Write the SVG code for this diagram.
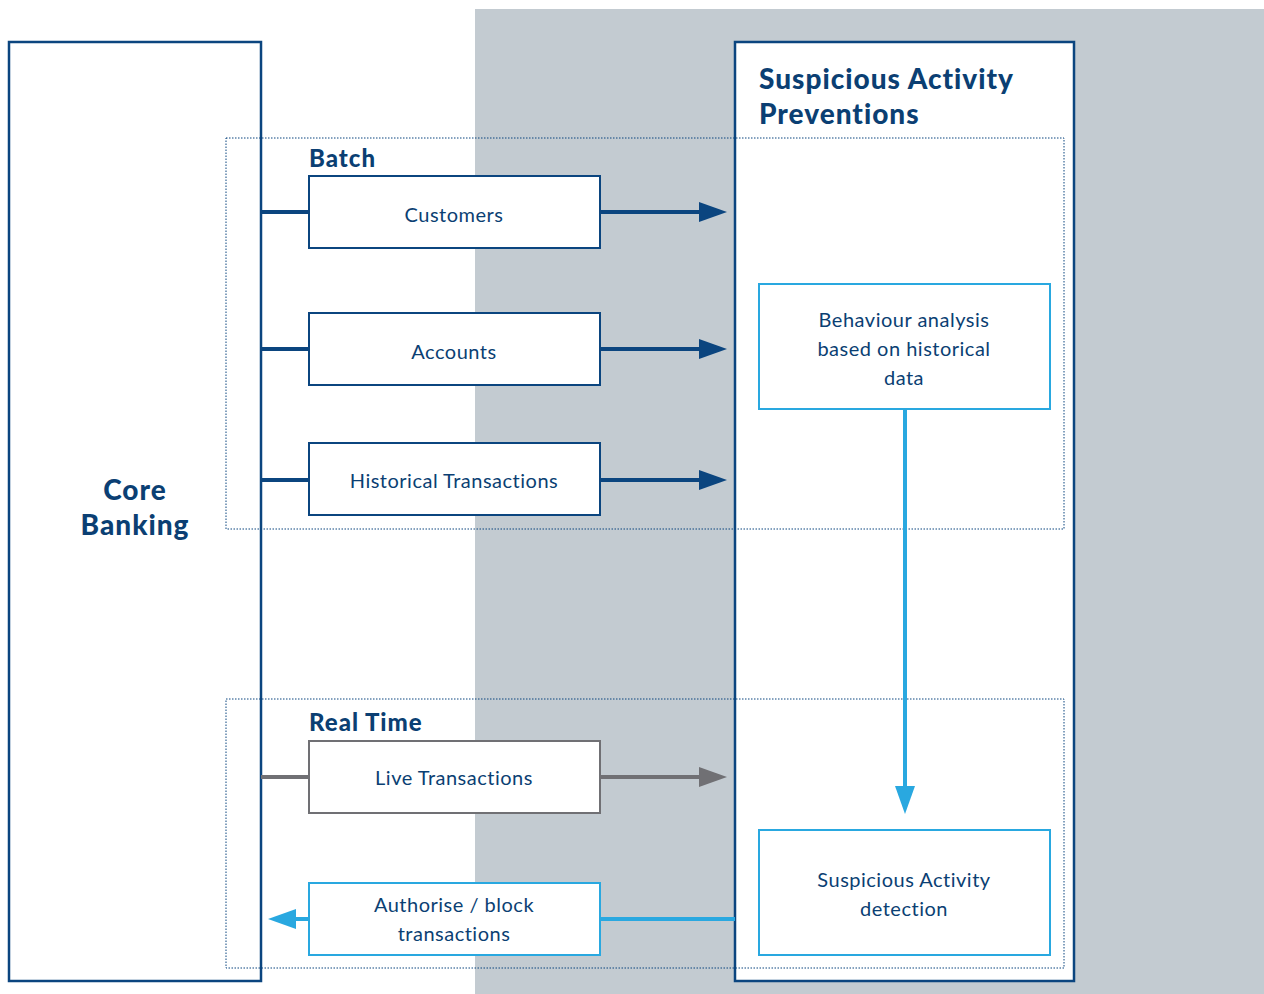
<svg xmlns="http://www.w3.org/2000/svg" width="1264" height="994" viewBox="0 0 1264 994">
<defs>
<style>
.big{fill:#fff;stroke:#0b457f;stroke-width:2.5}
.zone{fill:none;stroke:#0b457f;stroke-width:1;stroke-dasharray:1.5 1.5}
.box{fill:#fff;stroke:#0b457f;stroke-width:2}
.gbox{fill:#fff;stroke:#707074;stroke-width:2}
.lbox{fill:#fff;stroke:#29a8e0;stroke-width:2}
.t{font-family:Lato,"Liberation Sans",sans-serif;font-size:20px;fill:#0b3f73;text-anchor:middle;letter-spacing:0.5px}
.h{font-family:Lato,"Liberation Sans",sans-serif;font-weight:900;fill:#0b3f73;letter-spacing:1px}
.dk{stroke:#0b457f;stroke-width:4;fill:none}
.gr{stroke:#707074;stroke-width:4;fill:none}
.lb{stroke:#29a8e0;stroke-width:4;fill:none}
</style>
</defs>
<rect x="475" y="9" width="789" height="985" fill="#c3cbd1"/>
<g id="core-banking">
<rect class="big" x="9" y="42" width="252" height="939"/>
<text class="h" font-size="28" text-anchor="middle" x="135" y="500">Core</text>
<text class="h" font-size="28" text-anchor="middle" x="135" y="535">Banking</text>
</g>
<g id="sap">
<rect class="big" x="735" y="42" width="339" height="939"/>
<text class="h" font-size="28" x="759" y="89">Suspicious Activity</text>
<text class="h" font-size="28" x="759" y="124">Preventions</text>
</g>
<g id="batch-zone">
<rect class="zone" x="226" y="138" width="838" height="391"/>
<text class="h" font-size="24" x="309" y="167">Batch</text>
</g>
<g id="realtime-zone">
<rect class="zone" x="226" y="699" width="838" height="269"/>
<text class="h" font-size="24" x="309" y="731">Real Time</text>
</g>
<g id="connectors">
<line class="dk" x1="261" y1="212" x2="309" y2="212"/>
<line class="dk" x1="600" y1="212" x2="702" y2="212"/>
<polygon points="699,202 727,212 699,222" fill="#0b457f"/>
<line class="dk" x1="261" y1="349" x2="309" y2="349"/>
<line class="dk" x1="600" y1="349" x2="702" y2="349"/>
<polygon points="699,339 727,349 699,359" fill="#0b457f"/>
<line class="dk" x1="261" y1="480" x2="309" y2="480"/>
<line class="dk" x1="600" y1="480" x2="702" y2="480"/>
<polygon points="699,470 727,480 699,490" fill="#0b457f"/>
<line class="gr" x1="261" y1="777" x2="309" y2="777"/>
<line class="gr" x1="600" y1="777" x2="702" y2="777"/>
<polygon points="699,767 727,777 699,787" fill="#707074"/>
<line class="lb" x1="905" y1="409" x2="905" y2="790"/>
<polygon points="895,786 905,814 915,786" fill="#29a8e0"/>
<line class="lb" x1="735" y1="919" x2="600" y2="919"/>
<line class="lb" x1="309" y1="919" x2="292" y2="919"/>
<polygon points="296,909 268,919 296,929" fill="#29a8e0"/>
</g>
<g id="customers">
<rect class="box" x="309" y="176" width="291" height="72"/>
<text class="t" x="454" y="222">Customers</text>
</g>
<g id="accounts">
<rect class="box" x="309" y="313" width="291" height="72"/>
<text class="t" x="454" y="359">Accounts</text>
</g>
<g id="historical">
<rect class="box" x="309" y="443" width="291" height="72"/>
<text class="t" x="454" y="488">Historical Transactions</text>
</g>
<g id="live">
<rect class="gbox" x="309" y="741" width="291" height="72"/>
<text class="t" x="454" y="785">Live Transactions</text>
</g>
<g id="authorise">
<rect class="lbox" x="309" y="883" width="291" height="72"/>
<text class="t" x="454" y="912">Authorise / block</text>
<text class="t" x="454" y="941">transactions</text>
</g>
<g id="behaviour">
<rect class="lbox" x="759" y="284" width="291" height="125"/>
<text class="t" x="904" y="327">Behaviour analysis</text>
<text class="t" x="904" y="356">based on historical</text>
<text class="t" x="904" y="385">data</text>
</g>
<g id="detection">
<rect class="lbox" x="759" y="830" width="291" height="125"/>
<text class="t" x="904" y="887">Suspicious Activity</text>
<text class="t" x="904" y="916">detection</text>
</g>
</svg>
